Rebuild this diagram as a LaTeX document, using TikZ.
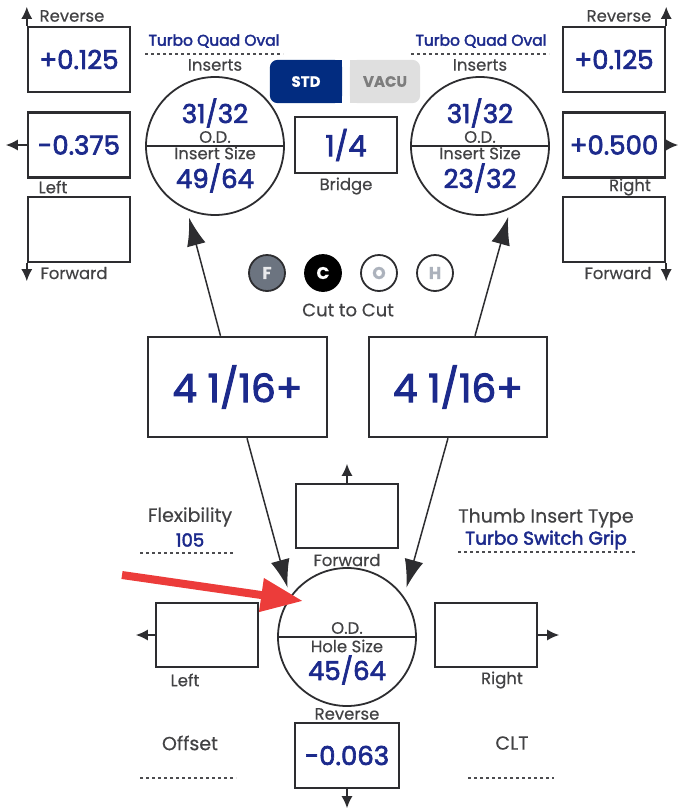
\documentclass[tikz,border=0pt]{standalone}
\usepackage{fontspec}
\setmainfont{Poppins}[FakeBold=0.4]
\newfontfamily\valfont[FakeBold=2.5]{Poppins}
\usepackage{tikz}
\usetikzlibrary{arrows.meta,positioning,calc,backgrounds}
\definecolor{ink}{RGB}{45,45,48}
\definecolor{labelgray}{RGB}{66,66,68}
\definecolor{valblue}{RGB}{28,42,140}
\definecolor{stdnavy}{RGB}{2,44,128}
\definecolor{vacubg}{RGB}{223,223,223}
\definecolor{vacutext}{RGB}{125,125,125}
\definecolor{fgray}{RGB}{108,116,128}
\definecolor{pale}{RGB}{172,178,188}
\definecolor{marker}{RGB}{236,60,58}
\tikzset{
  valbox/.style={draw=ink,line width=2.4pt,minimum width=102pt,minimum height=65pt,
    inner sep=0pt,text=valblue,font=\valfont\fontsize{26}{26}\selectfont},
  bigbox/.style={valbox,minimum width=179pt,minimum height=100pt,
    font=\valfont\fontsize{39}{39}\selectfont},
  disc/.style={circle,draw=ink,line width=1.8pt,minimum size=138pt,inner sep=0pt},
  discval/.style={inner sep=0pt,text=valblue,font=\valfont\fontsize{26}{26}\selectfont},
  lbl/.style={inner sep=0pt,text=labelgray,font=\fontsize{16.5}{16.5}\selectfont},
  biglbl/.style={inner sep=0pt,text=labelgray,font=\fontsize{19}{19}\selectfont},
  tag/.style={inner sep=0pt,text=valblue,font=\valfont\fontsize{15.5}{15.5}\selectfont},
  nudge/.style={ink,line width=1.6pt,-{Latex[length=12pt,width=11pt]}},
  feed/.style={ink,line width=1.5pt,-{Latex[length=28pt,width=19pt]}},
  pointer/.style={marker,line width=8pt,-{Triangle[length=42pt,width=32pt]}},
  dots/.style={ink!85,line width=2pt,dash pattern=on 3pt off 3pt},
  toggle/.style={minimum width=72pt,minimum height=43pt,inner sep=0pt,
    font=\bfseries\fontsize{15}{15}\selectfont},
  cutbtn/.style={circle,draw=ink,line width=1.8pt,minimum size=36pt,inner sep=0pt,
    font=\bfseries\fontsize{17}{17}\selectfont}
}
\begin{document}
\begin{tikzpicture}[x=1pt,y=-1pt]
  \useasboundingbox (0,0) rectangle (678,809);

  \node[valbox] (rl) at (79,59.5) {+0.125};
  \node[valbox] (ml) at (79,145) {-0.375};
  \node[valbox] (fl) at (79,229.5) {};
  \draw[nudge] (rl.north west) -- ++(0,-19);
  \draw[nudge] (ml.west) -- ++(-21,0);
  \draw[nudge] (fl.south west) -- ++(0,18);
  \node[lbl] at (72,16) {Reverse};
  \node[lbl] at (53,187) {Left};
  \node[lbl] at (74,273) {Forward};

  \node[valbox] (rr) at (614,59.5) {+0.125};
  \node[valbox] (mr) at (614,145) {+0.500};
  \node[valbox] (fr) at (614,229.5) {};
  \draw[nudge] (rr.north east) -- ++(0,-19);
  \draw[nudge] (mr.east) -- ++(12,0);
  \draw[nudge] (fr.south east) -- ++(0,18);
  \node[lbl] at (619,16) {Reverse};
  \node[lbl] at (630,187) {Right};
  \node[lbl] at (618,273) {Forward};

  \node[disc] (insl) at (215,146) {};
  \draw[ink,line width=1.8pt] (insl.west) -- (insl.east);
  \node[tag] at (214,41) {Turbo Quad Oval};
  \draw[dots] (145,54) -- (283,54);
  \node[lbl] at (215,65) {Inserts};
  \node[discval] at ([yshift=33pt]insl.center) {31/32};
  \node[lbl] at ([yshift=9pt]insl.center) {O.D.};
  \node[lbl] at ([yshift=-7pt]insl.center) {Insert Size};
  \node[discval] at ([yshift=-32pt]insl.center) {49/64};

  \node[disc] (insr) at (480,146) {};
  \draw[ink,line width=1.8pt] (insr.west) -- (insr.east);
  \node[tag] at (481,41) {Turbo Quad Oval};
  \draw[dots] (411,54) -- (549,54);
  \node[lbl] at (480,65) {Inserts};
  \node[discval] at ([yshift=33pt]insr.center) {31/32};
  \node[lbl] at ([yshift=9pt]insr.center) {O.D.};
  \node[lbl] at ([yshift=-7pt]insr.center) {Insert Size};
  \node[discval] at ([yshift=-32pt]insr.center) {23/32};

  \node[toggle,text=white] (std) at (306,81.5) {STD};
  \node[toggle,text=vacutext,minimum width=70pt] (vacu) at (385,81.5) {VACU};
  \begin{scope}[on background layer]
    \fill[stdnavy,rounded corners=8pt] (std.north west) rectangle (std.south east);
    \fill[stdnavy] (std.north) rectangle (std.south east);
    \fill[vacubg,rounded corners=8pt] (vacu.north west) rectangle (vacu.south east);
    \fill[vacubg] (vacu.north west) rectangle (vacu.south);
  \end{scope}

  \node[valbox,minimum height=56pt,font=\valfont\fontsize{29}{29}\selectfont] (bridge) at (346,145) {1/4};
  \node[lbl] at (346,186) {Bridge};

  \node[cutbtn,fill=fgray,text=white!85!fgray] (btnf) at (267,273) {F};
  \node[cutbtn,fill=black,draw=black,text=white] (btnc) at (323,273) {C};
  \node[cutbtn,fill=white,text=pale] (btno) at (379,273) {O};
  \node[cutbtn,fill=white,text=pale] (btnh) at (435,273) {H};
  \node[biglbl,font=\fontsize{18}{18}\selectfont] at (348,310) {Cut to Cut};

  \node[bigbox] (cutl) at (237.5,387) {4 1/16+};
  \node[bigbox,minimum width=178pt] (cutr) at (458,387) {4 1/16+};
  \draw[feed] ([xshift=-17pt]cutl.north) -- ([shift={(-2,6)}]insl.250);
  \draw[feed] ([xshift=17pt]cutr.north) -- ([shift={(2,6)}]insr.292);

  \node[disc] (hole) at (347,637) {};
  \draw[ink,line width=1.8pt] (hole.west) -- (hole.east);
  \node[lbl] at ([yshift=9pt]hole.center) {O.D.};
  \node[lbl] at ([yshift=-9pt]hole.center) {Hole Size};
  \node[discval] at ([yshift=-33pt]hole.center) {45/64};
  \draw[feed] ([xshift=9.5pt]cutl.south) -- ([xshift=-10pt]hole.north west);
  \draw[feed] ([xshift=-10pt]cutr.south) -- ([xshift=10pt]hole.north east);

  \node[valbox,minimum height=64pt] (fwd) at (347,516) {};
  \node[valbox,minimum height=64pt] (lb) at (207,635) {};
  \node[valbox,minimum height=64pt] (rb) at (486,635) {};
  \node[valbox,minimum width=104pt] (rev) at (347,755.5) {-0.063};
  \draw[nudge] (fwd.north) -- ++(0,-19);
  \draw[nudge] (lb.west) -- ++(-19,0);
  \draw[nudge] (rb.east) -- ++(21,0);
  \draw[nudge] (rev.south) -- ++(0,19);
  \node[lbl] at (347,560) {Forward};
  \node[lbl] at (185,680) {Left};
  \node[lbl] at (502,680) {Right};
  \node[lbl] at (347,714) {Reverse};

  \node[biglbl] at (190,517) {Flexibility};
  \node[tag,font=\valfont\fontsize{18}{18}\selectfont] at (190,540) {105};
  \draw[dots] (140,553) -- (235,553);
  \node[biglbl] at (546,518) {Thumb Insert Type};
  \node[tag,font=\valfont\fontsize{18.5}{18.5}\selectfont] at (546,540) {Turbo Switch Grip};
  \draw[dots] (458,552) -- (635,552);
  \node[biglbl] at (190,743) {Offset};
  \draw[dots] (140,778) -- (236,778);
  \node[biglbl] at (512,743) {CLT};
  \draw[dots] (468,778) -- (554,778);

  \coordinate (markstart) at (122,575);
  \coordinate (marktip) at (303,601);
  \draw[pointer] (markstart) -- (marktip);
\end{tikzpicture}
\end{document}
